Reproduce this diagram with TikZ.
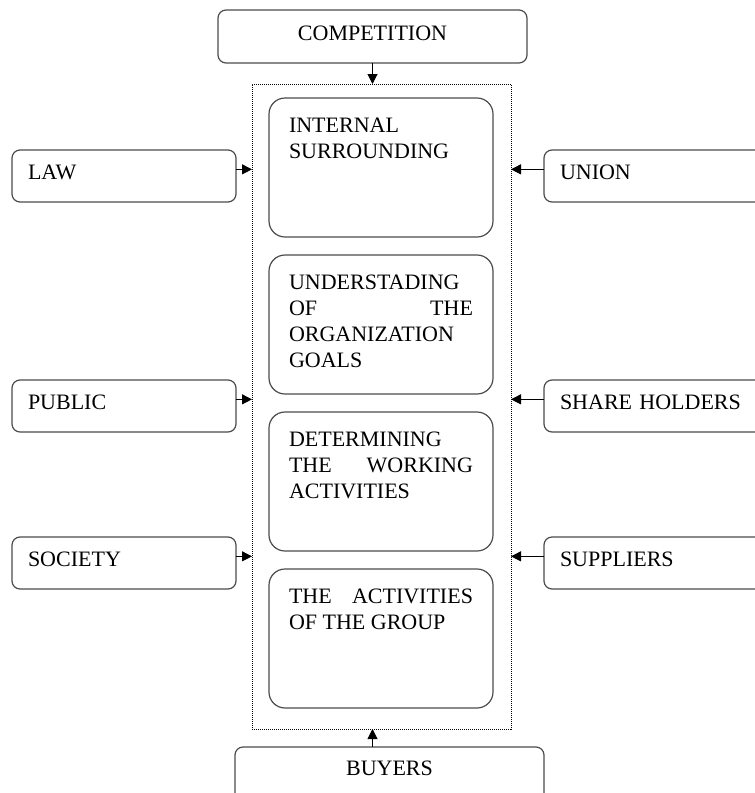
\documentclass[tikz,border=0pt]{standalone}
\usepackage{fontspec}
\setmainfont{Liberation Serif}
\usetikzlibrary{arrows.meta,positioning}

\begin{document}
\begin{tikzpicture}[x=0.75pt,y=-0.75pt,
  every node/.style={font=\fontsize{16.5pt}{19.7pt}\selectfont, outer sep=0pt,
    execute at begin node={\tolerance=10000\hyphenpenalty=10000\hbadness=10000}},
  sidebox/.style={draw=black!70, line width=0.9pt, rounded corners=6pt, anchor=north west,
    inner xsep=12pt, inner ysep=0pt, text width=144pt, align=left,
    text height=21.75pt, text depth=17.25pt},
  stagebox/.style={draw=black!70, line width=0.9pt, rounded corners=12pt, anchor=north west,
    inner xsep=15pt, inner ysep=0pt, text width=138pt, align=justify,
    text height=25.5pt, text depth=78.75pt},
  wide/.style={draw=black!70, line width=0.9pt, rounded corners=6pt, anchor=north west,
    inner sep=0pt, minimum width=231.75pt},
  arr/.style={-{Triangle[length=7.5pt,width=7.5pt]}, line width=0.75pt}]
\useasboundingbox (0,0) rectangle (755,793);

\node[wide, text height=22.5pt, text depth=17.25pt] (comp) at (218,10) {COMPETITION};
\node[draw, dash pattern=on 0.75pt off 0.75pt, line width=0.6pt, anchor=north west,
  minimum width=194.25pt, minimum height=483.75pt] (env) at (252,84) {};

\node[stagebox] (internal) at (269,98) {INTERNAL SURROUNDING};
\node[stagebox, below=13.5pt of internal] (goals) {UNDERSTADING OF THE ORGANIZATION GOALS};
\node[stagebox, below=13.5pt of goals] (work) {DETERMINING THE WORKING ACTIVITIES};
\node[stagebox, below=13.5pt of work] (group) {THE ACTIVITIES OF THE GROUP};

\node[sidebox] (law) at (12,150) {LAW};
\node[sidebox] (public) at (12,380) {PUBLIC};
\node[sidebox] (society) at (12,537) {SOCIETY};
\node[sidebox] (union) at (544,150) {UNION};
\node[sidebox] (holders) at (544,380) {SHARE HOLDERS};
\node[sidebox] (suppliers) at (544,537) {SUPPLIERS};

\node[wide, text height=21pt, text depth=24pt] (buyers) at (235,747) {BUYERS};

\draw[arr] (comp.south) -- (comp.south |- env.north);
\draw[arr] (buyers.north -| comp.south) -- (env.south -| comp.south);
\draw[arr] ([yshift=5pt]law.east) -- ([yshift=5pt]law.east -| env.west);
\draw[arr] ([yshift=5pt]public.east) -- ([yshift=5pt]public.east -| env.west);
\draw[arr] ([yshift=5pt]society.east) -- ([yshift=5pt]society.east -| env.west);
\draw[arr] ([yshift=5pt]union.west) -- ([yshift=5pt]union.west -| env.east);
\draw[arr] ([yshift=5pt]holders.west) -- ([yshift=5pt]holders.west -| env.east);
\draw[arr] ([yshift=5pt]suppliers.west) -- ([yshift=5pt]suppliers.west -| env.east);
\end{tikzpicture}
\end{document}
